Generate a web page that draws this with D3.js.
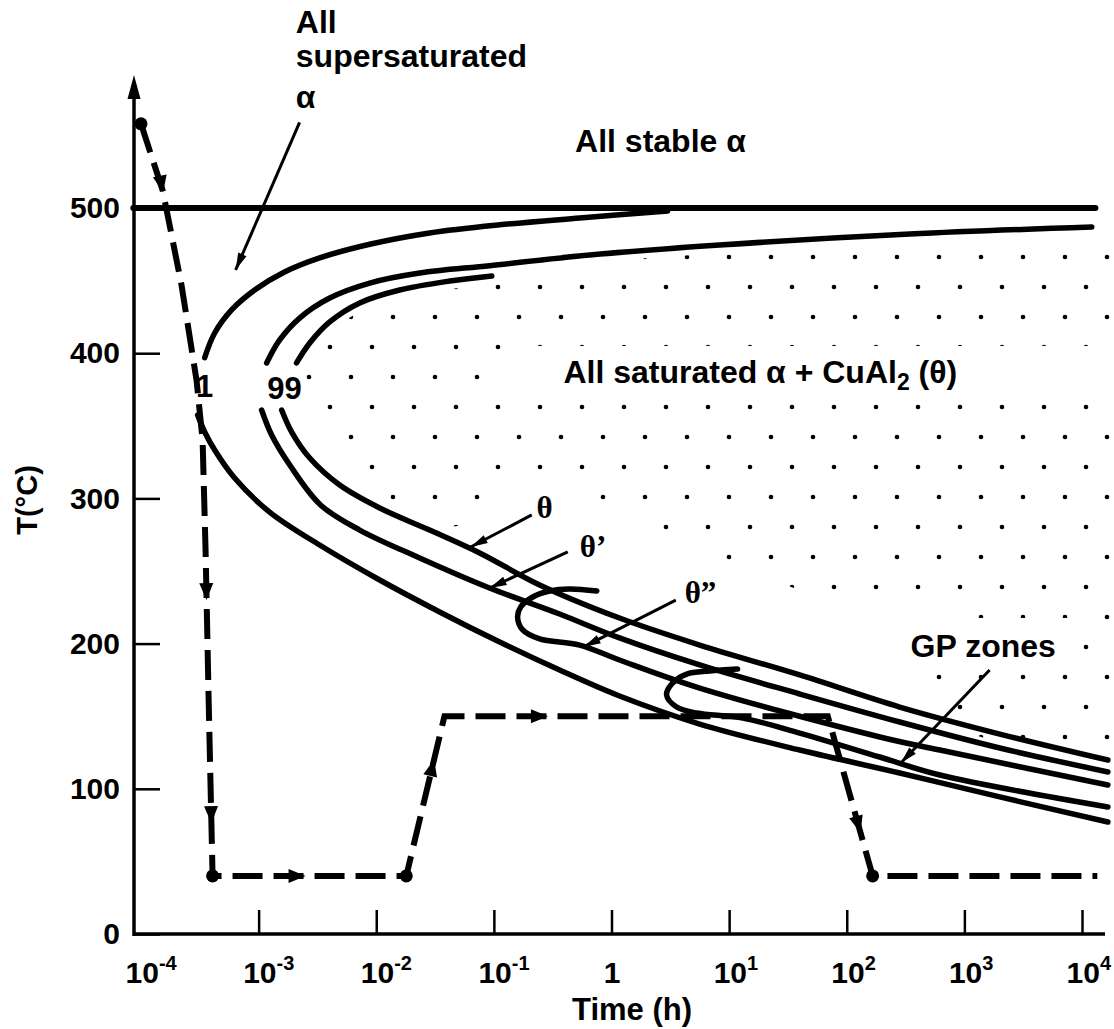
<!DOCTYPE html>
<html>
<head>
<meta charset="utf-8">
<script src="https://cdn.jsdelivr.net/npm/d3@7"></script>
<style>
  body { margin: 0; background: #fff; }
  svg { display: block; font-family: "Liberation Sans", Arial, sans-serif; font-weight: bold; }
</style>
</head>
<body>
<svg width="1114" height="1029"></svg>
<script>
// time in hours, temperature in degC
const xTicks = [1e-4, 1e-3, 1e-2, 1e-1, 1, 1e1, 1e2, 1e3, 1e4];
const yTicks = [0, 100, 200, 300, 400, 500];

const solvusLine = [[8.6e-5, 500], [1.3e4, 500]];

// "1" curve (upper and lower branch)
const startUpper = [[3.48e-4, 397], [4.23e-4, 413.9], [5.89e-4, 429.8], [9.25e-4, 443.5], [1.66e-3, 455.9],
    [3.3e-3, 465.6], [8.8e-3, 475], [2.84e-2, 482.8], [0.112, 488.4], [0.537, 493.1], [3.0, 497.9]];
const startLower = [[3.03e-4, 357.4], [3.48e-4, 345.7], [4.23e-4, 333.3], [6.25e-4, 314], [1.24e-3, 290.6],
    [3.3e-3, 267.9], [1.07e-2, 243.8], [3.46e-2, 221.8], [0.112, 201.1], [0.362, 181.8], [1.17, 163.9],
    [5.62, 144.6], [39.8, 126.7], [282, 110.9], [2000, 94.4], [1.66e4, 77.1]];

// "99" curves, upper branches
const outerUpper = [[1.17e-3, 393.3], [1.51e-3, 409.1], [2.23e-3, 424.2], [4.02e-3, 438], [8.8e-3, 448.3],
    [2.34e-2, 455.2], [9.2e-2, 460.3], [0.653, 467.6], [8.3, 474.5], [343, 482.1], [1.21e4, 486.9]];
const innerUpper = [[2.1e-3, 393.3], [2.72e-3, 407], [4.02e-3, 421.5], [7.23e-3, 434.6], [1.58e-2, 443.5],
    [4.21e-2, 449.7], [9.6e-2, 453.2]];

// lower branches
const thetaPrimeLower = [[1.06e-3, 360.9], [1.29e-3, 343.7], [1.84e-3, 323], [3.36e-3, 295.5], [7.23e-3, 278.2],
    [2.34e-2, 259], [9.2e-2, 238.3], [0.362, 220.4], [1.17, 203.9], [5.62, 185.3], [39.8, 165.3], [282, 146],
    [2000, 128.1], [1.66e4, 111.6]];
const thetaLower = [[1.57e-3, 360.9], [1.91e-3, 345.7], [2.72e-3, 327.8], [4.89e-3, 309.2], [1.07e-2, 293.4],
    [2.84e-2, 278.2], [7.57e-2, 262.4], [0.245, 240.4], [1.17, 217.6], [5.62, 199], [39.8, 178.4], [282, 156.3],
    [2000, 137.7], [1.66e4, 119.8]];
const thetaDPCurve = [[0.75, 236.2], [0.44, 237.6], [0.298, 236.2], [0.214, 232.1], [0.169, 225.2], [0.159, 218.3],
    [0.176, 209.4], [0.245, 203.2], [0.536, 199], [1.17, 188.7], [5.62, 169.4], [191, 135.7], [618, 126.7], [1.66e4, 102.6]];
const gpCurve = [[11.8, 182.5], [6.84, 181.1], [4.36, 179], [3.25, 172.2], [2.94, 164.6], [3.58, 156.3], [5.3, 152.2],
    [13.1, 148.7], [39.8, 138.4], [191, 121.9], [618, 109.5], [1.66e4, 87.5]];

// heat treatment path (dashed)
const processPath = [[1.0e-4, 558], [1.53e-4, 512], [2.21e-4, 447], [2.97e-4, 381], [3.34e-4, 340], [3.54e-4, 264],
    [3.76e-4, 161], [4.06e-4, 40], [1.8e-2, 40], [3.8e-2, 150], [69, 150], [166, 40], [1.35e4, 40]];
const processDots = [0, 7, 8, 11];
const processArrows = [[1, 0.02], [5, 0.33], [6, 0.7], [7, 0.48], [8, 0.73], [9, 0.27], [10, 0.73]]; // [segment, fraction]

// lower edge of the dotted field
const stippleEdge = [[2.23e-3, 354], [1.30e-2, 295.5], [4.21e-2, 280.3], [0.245, 288.6], [1.74, 283.7], [3.8, 265.8],
    [39.8, 236.9], [828, 224.5], [256, 168], [1225, 137.1], [1.79e4, 107.4]];

// pointer arrows [from, to]
const pointers = [
    [[2.23e-3, 559], [6.37e-4, 457.3]],
    [[0.21, 288.6], [0.0635, 266.5]],
    [[0.425, 263.1], [0.092, 238.3]],
    [[3.52, 230], [0.58, 197.7]],
    [[1640, 181.8], [288, 117.8]]
];

const svg = d3.select('svg');
const x = d3.scaleLog().domain([1e-4, 1e4]).range([141, 1082]);
const y = d3.scaleLinear().domain([0, 500]).range([934, 208]);
const axisX0 = 134;

const line = d3.line().x(d => x(d[0])).y(d => y(d[1])).curve(d3.curveCatmullRom.alpha(0.5));
const straight = d3.line().x(d => x(d[0])).y(d => y(d[1]));

function arrowHead(g, px, py, ang, len, wid) {
    g.append('path')
        .attr('d', `M0,0L${-len},${-wid / 2}L${-len},${wid / 2}Z`)
        .attr('transform', `translate(${px},${py}) rotate(${ang * 180 / Math.PI})`)
        .attr('fill', '#000');
}

const defs = svg.append('defs');
const pat = defs.append('pattern').attr('id', 'dots')
    .attr('patternUnits', 'userSpaceOnUse')
    .attr('x', 0).attr('y', 242).attr('width', 84).attr('height', 60);
pat.selectAll('circle').data([[15, 15], [57, 15], [36, 45], [78, 45]]).join('circle')
    .attr('cx', d => d[0]).attr('cy', d => d[1]).attr('r', 2.3).attr('fill', '#000');

const stippleG = svg.append('g');

// axes
const yAxisG = svg.append('g').attr('transform', `translate(${axisX0},0)`)
    .call(d3.axisLeft(y).tickValues(yTicks).tickSizeInner(-26).tickSizeOuter(0).tickPadding(14));
yAxisG.select('.domain').remove();
yAxisG.selectAll('.tick line').attr('stroke-width', 2.5);
yAxisG.selectAll('.tick text').attr('font-size', 30).attr('font-family', '"Liberation Sans", Arial, sans-serif')
    .attr('font-weight', 'bold').attr('fill', '#000');

const xAxisG = svg.append('g').attr('transform', `translate(0,${y(0)})`)
    .call(d3.axisBottom(x).tickValues(xTicks).tickSizeInner(-24).tickSizeOuter(0));
xAxisG.select('.domain').remove();
xAxisG.selectAll('.tick line').attr('stroke-width', 2.5).filter(d => d === 1e-4).remove();
xAxisG.selectAll('.tick text').each(function (d) {
    const t = d3.select(this).text(null).attr('y', 49).attr('dy', null)
        .attr('font-size', 30).attr('font-family', '"Liberation Sans", Arial, sans-serif')
        .attr('font-weight', 'bold').attr('fill', '#000');
    if (d === 1) { t.text('1'); return; }
    const e = Math.round(Math.log10(d));
    t.attr('text-anchor', 'start').attr('x', -16);
    t.append('tspan').text('10');
    t.append('tspan').attr('dy', -13).attr('font-size', 20).text(e);
});

svg.append('line').attr('x1', axisX0).attr('x2', axisX0).attr('y1', y(0) + 2).attr('y2', 90)
    .attr('stroke', '#000').attr('stroke-width', 3.5);
arrowHead(svg, axisX0, 75, -Math.PI / 2, 24, 13);
svg.append('line').attr('x1', axisX0).attr('x2', 1105).attr('y1', y(0)).attr('y2', y(0))
    .attr('stroke', '#000').attr('stroke-width', 3.5);

svg.append('text').attr('x', 632).attr('y', 1020).attr('text-anchor', 'middle')
    .attr('font-size', 31).text('Time (h)');
svg.append('text').attr('transform', 'translate(37,500) rotate(-90)').attr('text-anchor', 'middle')
    .attr('font-size', 29).text('T(°C)');

// curves
const curveG = svg.append('g').attr('fill', 'none').attr('stroke', '#000').attr('stroke-linecap', 'round');
curveG.append('path').attr('d', straight(solvusLine)).attr('stroke-width', 6);
[startUpper, startLower, outerUpper, innerUpper, thetaPrimeLower, thetaLower, thetaDPCurve, gpCurve].forEach(c => {
    curveG.append('path').attr('d', line(c)).attr('stroke-width', 5.5);
});

// heat treatment path
const procPx = processPath.map(d => [x(d[0]), y(d[1])]);
svg.append('path').attr('d', straight(processPath)).attr('fill', 'none').attr('stroke', '#000')
    .attr('stroke-width', 6).attr('stroke-dasharray', '30 11');
svg.selectAll('circle.pdot').data(processDots).join('circle').attr('class', 'pdot')
    .attr('cx', i => procPx[i][0]).attr('cy', i => procPx[i][1]).attr('r', 6.5).attr('fill', '#000');
processArrows.forEach(([i, f]) => {
    const a = procPx[i], b = procPx[i + 1];
    const px = a[0] + (b[0] - a[0]) * f, py = a[1] + (b[1] - a[1]) * f;
    arrowHead(svg, px, py, Math.atan2(b[1] - a[1], b[0] - a[0]), 17, 14);
});

// pointer arrows
pointers.forEach(([s, e]) => {
    const x1 = x(s[0]), y1 = y(s[1]), x2 = x(e[0]), y2 = y(e[1]);
    svg.append('line').attr('x1', x1).attr('y1', y1).attr('x2', x2).attr('y2', y2)
        .attr('stroke', '#000').attr('stroke-width', 3);
    arrowHead(svg, x2, y2, Math.atan2(y2 - y1, x2 - x1), 17, 9);
});

// labels
const textG = svg.append('g');
function label(t, T, str, size, family) {
    return textG.append('text').attr('x', x(t)).attr('y', y(T)).attr('font-size', size)
        .attr('font-family', family || null).text(str);
}
label(2.07e-3, 620.5, 'All', 32);
label(2.07e-3, 597, 'supersaturated', 32);
label(2.07e-3, 569, 'α', 32);
label(0.49, 538.6, 'All stable α', 32);
const satLabel = label(0.39, 379.5, 'All saturated α + CuAl', 32);
satLabel.append('tspan').attr('dy', 7).attr('font-size', 23).text('2');
satLabel.append('tspan').attr('dy', -7).text(' (θ)');
label(3.48e-4, 369.8, '1', 31).attr('text-anchor', 'middle');
label(1.66e-3, 368.5, '99', 31).attr('text-anchor', 'middle');
const thetaLabel = label(0.23, 286.5, 'θ', 31, '"Liberation Serif", serif');
label(0.537, 259.6, 'θ’', 31, '"Liberation Serif", serif');
label(4.19, 228, 'θ”', 31, '"Liberation Serif", serif');
const gpLabel = label(349, 190.8, 'GP zones', 32);

// dotted field: between the upper "99" curves and the stipple edge, minus label boxes
const upperPts = innerUpper.concat(outerUpper.filter(d => d[0] >= 0.087)).concat([[1.8e4, 487]]);
const regionD = line(upperPts) + 'L' + stippleEdge.slice().reverse().map(d => `${x(d[0])},${y(d[1])}`).join('L') + 'Z';
const mask = defs.append('mask').attr('id', 'stippleMask').attr('maskUnits', 'userSpaceOnUse')
    .attr('x', 0).attr('y', 0).attr('width', 1114).attr('height', 1029);
mask.append('path').attr('d', regionD).attr('fill', '#fff');
mask.append('path').attr('d', line(upperPts)).attr('fill', 'none').attr('stroke', '#000').attr('stroke-width', 16);
const sb = satLabel.node().getBBox();
mask.append('rect').attr('x', sb.x - 55).attr('y', sb.y - 8).attr('width', 1114).attr('height', sb.height + 16).attr('fill', '#000');
[thetaLabel, gpLabel].forEach(l => {
    const b = l.node().getBBox();
    mask.append('rect').attr('x', b.x - 25).attr('y', b.y - 10).attr('width', b.width + 50).attr('height', b.height + 20).attr('fill', '#000');
});
stippleG.append('rect').attr('width', 1114).attr('height', 1029).attr('fill', 'url(#dots)').attr('mask', 'url(#stippleMask)');
</script>
</body>
</html>
